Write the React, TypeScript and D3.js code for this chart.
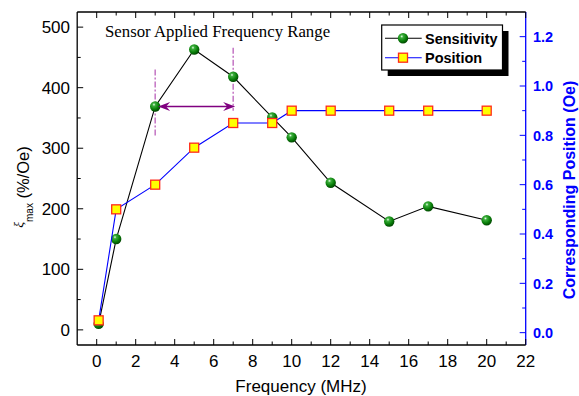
import React from 'react';
import * as d3 from 'd3';

// data
const frequency = [0.1, 1, 3, 5, 7, 9, 10, 12, 15, 17, 20];
const sensitivity = [10, 150, 369, 463, 418, 351, 318, 243, 179, 204, 181];
const position = [0.05, 0.5, 0.6, 0.75, 0.85, 0.85, 0.9, 0.9, 0.9, 0.9, 0.9];

const xTicks = [0, 2, 4, 6, 8, 10, 12, 14, 16, 18, 20, 22];
const leftTicks = [0, 100, 200, 300, 400, 500];
const rightTicks = [0, 0.2, 0.4, 0.6, 0.8, 1.0, 1.2];

// annotation (data units)
const rangeArrow = { from: 3.15, to: 7.1, level: 369 };
const rangeMarks = [
  { x: 3, lo: 320, hi: 430 },
  { x: 7, lo: 362, hi: 466 },
];
const noteText = 'Sensor Applied Frequency Range';

const W = 579;
const H = 396;
const m = { left: 77.2, right: 525.7, top: 12, bottom: 345 };

const SANS = 'Arial, "Liberation Sans", sans-serif';
const SERIF = '"Times New Roman", "Liberation Serif", serif';
const PURPLE = '#800080';
const ORCHID = '#c77dc7';

function mids(t: number[]) {
  return t.slice(1).map((v, i) => (v + t[i]) / 2);
}

function Ball({ cx, cy }: { cx: number; cy: number }) {
  return <circle cx={cx} cy={cy} r={5.2} fill="url(#ball)" />;
}

function Square({ cx, cy }: { cx: number; cy: number }) {
  const s = 9;
  return (
    <rect x={cx - s / 2} y={cy - s / 2} width={s} height={s}
      fill="#ffff00" stroke="#ff2a1a" strokeWidth={1.3} />
  );
}

export default function App() {
  const x = d3.scaleLinear().domain([-1, 22]).range([m.left, m.right]);
  const yL = d3.scaleLinear().domain([-25, 525]).range([m.bottom, m.top]);
  const yR = d3.scaleLinear().domain([-0.05, 1.3]).range([m.bottom, m.top]);

  const sensLine = d3.line<number>().x((_, i) => x(frequency[i])).y(d => yL(d))(sensitivity) || '';
  const posLine = d3.line<number>().x((_, i) => x(frequency[i])).y(d => yR(d))(position) || '';

  const fmtR = d3.format('.1f');
  const maj = 6;
  const min = 3.5;

  // arrow geometry
  const ax1 = x(rangeArrow.from);
  const ax2 = x(rangeArrow.to);
  const ay = yL(rangeArrow.level);
  const head = (tip: number, dir: number) =>
    `M${tip},${ay} L${tip + dir * 12},${ay - 4.5} L${tip + dir * 8},${ay} L${tip + dir * 12},${ay + 4.5} Z`;

  // legend box
  const lg = { x: 381.7, y: 25, w: 120.8, h: 45 };
  const rows = [38.3, 57.7];

  return (
    <div style={{ position: 'absolute', left: 0, top: 0 }}>
      <svg width={W} height={H} style={{ display: 'block', background: '#fff' }}>
        <defs>
          <radialGradient id="ball" cx="38%" cy="32%" r="68%">
            <stop offset="0%" stopColor="#eaffea" />
            <stop offset="22%" stopColor="#3cae3c" />
            <stop offset="65%" stopColor="#0a800a" />
            <stop offset="100%" stopColor="#004800" />
          </radialGradient>
        </defs>

        {/* frame: left, bottom, top in black, right in blue */}
        <line x1={m.left} x2={m.left} y1={m.top} y2={m.bottom} stroke="#000" strokeWidth={1.3} />
        <line x1={m.left} x2={m.right} y1={m.bottom} y2={m.bottom} stroke="#000" strokeWidth={1.3} />
        <line x1={m.left} x2={m.right} y1={m.top} y2={m.top} stroke="#000" strokeWidth={1.3} />
        <line x1={m.right} x2={m.right} y1={m.top} y2={m.bottom} stroke="#0000ff" strokeWidth={1.3} />

        {/* x ticks (bottom + top, inward) */}
        {xTicks.map(t => (
          <g key={'x' + t}>
            <line x1={x(t)} x2={x(t)} y1={m.bottom} y2={m.bottom - maj} stroke="#000" />
            <line x1={x(t)} x2={x(t)} y1={m.top} y2={m.top + maj} stroke="#000" />
            <text x={x(t)} y={367} textAnchor="middle" fontFamily={SANS} fontSize={17}>{t}</text>
          </g>
        ))}
        {mids(xTicks).map(t => (
          <g key={'xm' + t}>
            <line x1={x(t)} x2={x(t)} y1={m.bottom} y2={m.bottom - min} stroke="#000" />
            <line x1={x(t)} x2={x(t)} y1={m.top} y2={m.top + min} stroke="#000" />
          </g>
        ))}

        {/* left axis */}
        {leftTicks.map(t => (
          <g key={'l' + t}>
            <line x1={m.left} x2={m.left + maj} y1={yL(t)} y2={yL(t)} stroke="#000" />
            <text x={70} y={yL(t)} dy="0.36em" textAnchor="end" fontFamily={SANS} fontSize={17}>{t}</text>
          </g>
        ))}
        {mids(leftTicks).map(t => (
          <line key={'lm' + t} x1={m.left} x2={m.left + min} y1={yL(t)} y2={yL(t)} stroke="#000" />
        ))}

        {/* right axis */}
        {rightTicks.map(t => (
          <g key={'r' + t}>
            <line x1={m.right} x2={m.right - maj} y1={yR(t)} y2={yR(t)} stroke="#0000ff" />
            <text x={533} y={yR(t)} dy="0.36em" fontFamily={SANS} fontSize={14.5} fontWeight="bold" fill="#0000ff">{fmtR(t)}</text>
          </g>
        ))}
        {mids(rightTicks).map(t => (
          <line key={'rm' + t} x1={m.right} x2={m.right - min} y1={yR(t)} y2={yR(t)} stroke="#0000ff" />
        ))}

        {/* axis titles */}
        <text x={301} y={392} textAnchor="middle" fontFamily={SANS} fontSize={17}>Frequency (MHz)</text>
        <text transform="translate(29,187) rotate(-90)" textAnchor="middle" fontFamily={SANS}>
          <tspan fontSize={13.5} fontStyle="italic" fontFamily={SERIF} dy={-6}>ξ</tspan>
          <tspan fontSize={10} dy={10}>max</tspan>
          <tspan fontSize={16.5} dy={-4}> (%/Oe)</tspan>
        </text>
        <text transform="translate(575,190) rotate(-90)" textAnchor="middle" fontFamily={SANS}
          fontSize={16} fontWeight="bold" fill="#0000ff">Corresponding Position (Oe)</text>

        {/* annotation */}
        <text x={105} y={36.5} fontFamily={SERIF} fontSize={16.8}>{noteText}</text>
        {rangeMarks.map(r => (
          <line key={'rk' + r.x} x1={x(r.x)} x2={x(r.x)} y1={yL(r.hi)} y2={yL(r.lo)}
            stroke={ORCHID} strokeWidth={1.6} strokeDasharray="6 2 2 2" />
        ))}

        {/* series */}
        <path d={sensLine} fill="none" stroke="#000" strokeWidth={1.1} />
        {sensitivity.map((v, i) => <Ball key={'s' + i} cx={x(frequency[i])} cy={yL(v)} />)}
        <path d={posLine} fill="none" stroke="#0000ff" strokeWidth={1.1} />
        {position.map((v, i) => <Square key={'p' + i} cx={x(frequency[i])} cy={yR(v)} />)}

        {/* range arrow */}
        <line x1={ax1 + 6} x2={ax2 - 6} y1={ay} y2={ay} stroke={PURPLE} strokeWidth={1.6} />
        <path d={head(ax1, 1)} fill={PURPLE} />
        <path d={head(ax2, -1)} fill={PURPLE} />

        {/* legend */}
        <rect x={lg.x + 6} y={lg.y + 6} width={lg.w} height={lg.h} fill="#000" />
        <rect x={lg.x} y={lg.y} width={lg.w} height={lg.h} fill="#fff" stroke="#000" strokeWidth={1.2} />
        <line x1={385} x2={421.7} y1={rows[0]} y2={rows[0]} stroke="#000" strokeWidth={1.1} />
        <Ball cx={403} cy={rows[0]} />
        <text x={425} y={rows[0]} dy="0.36em" fontFamily={SANS} fontSize={14.5} fontWeight="bold">Sensitivity</text>
        <line x1={385} x2={421.7} y1={rows[1]} y2={rows[1]} stroke="#0000ff" strokeWidth={1.1} />
        <Square cx={403} cy={rows[1]} />
        <text x={425} y={rows[1]} dy="0.36em" fontFamily={SANS} fontSize={14.5} fontWeight="bold">Position</text>
      </svg>
    </div>
  );
}
